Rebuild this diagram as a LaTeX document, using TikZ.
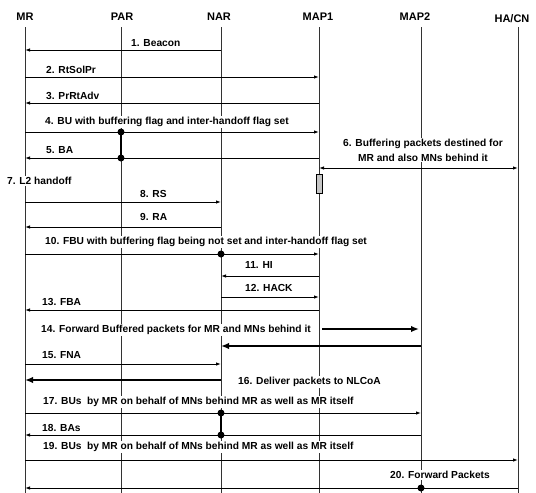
\documentclass[tikz,border=0pt]{standalone}
\usepackage{fontspec}
\setmainfont{Liberation Sans}
\usetikzlibrary{arrows.meta}
\begin{document}
\begin{tikzpicture}[x=1pt,y=-1pt,
  head/.style={font=\fontsize{11}{12}\selectfont\bfseries, inner sep=1pt},
  lbl/.style={font=\fontsize{10.2}{12}\selectfont\bfseries, fill=white, inner sep=1pt, anchor=west},
  life/.style={line width=0.8pt, black!80},
  msg/.style={line width=0.9pt, -{Latex[length=5pt,width=3.5pt]}},
  msgb/.style={line width=0.9pt, {Latex[length=5pt,width=3.5pt]}-{Latex[length=5pt,width=3.5pt]}},
  bigarr/.style={line width=2.4pt, -{Latex[length=8pt,width=6.5pt]}},
  bar/.style={line width=1.6pt},
  dot/.style={circle, fill=black, inner sep=0pt, minimum size=7pt}]
\useasboundingbox (0,0) rectangle (536,493);
% headers
\node[head] (mr) at (25,17) {MR};
\node[head] (par) at (122,17) {PAR};
\node[head] (nar) at (219,17) {NAR};
\node[head] (map1) at (318,17) {MAP1};
\node[head] (map2) at (415,17) {MAP2};
\node[head] (ha) at (512,19) {HA/CN};
% lifeline anchors
\coordinate (lmr) at (25,27);
\coordinate (lpar) at (121,27);
\coordinate (lnar) at (221,27);
\coordinate (lmap1) at (319,27);
\coordinate (lmap2) at (421,27);
\coordinate (lha) at (518,27);
\foreach \l in {lmr,lpar,lnar,lmap1,lmap2,lha}{
  \draw[life] (\l) -- (\l |- 0,493);
}
% labels
\node[lbl] (t1) at (130,43) {1. Beacon};
\node[lbl] (t2) at (45,70) {2. RtSolPr};
\node[lbl] (t3) at (45,96) {3. PrRtAdv};
\node[lbl] (t4) at (44,122) {4. BU with buffering flag and inter-handoff flag set};
\node[lbl] (t5) at (45,150) {5. BA};
\node[font=\fontsize{10.2}{15}\selectfont\bfseries, fill=white, inner sep=1pt, align=center] (t6) at (423,150) {6. Buffering packets destined for\\MR and also MNs behind it};
\node[lbl] (t7) at (6,181) {7. L2 handoff};
\node[lbl] (t8) at (139,194) {8. RS};
\node[lbl] (t9) at (139,217) {9. RA};
\node[lbl] (t10) at (44,242) {10. FBU with buffering flag being not set and inter-handoff flag set};
\node[lbl] (t11) at (244,265) {11. HI};
\node[lbl] (t12) at (244,288) {12. HACK};
\node[lbl] (t13) at (41,302) {13. FBA};
\node[lbl] (t14) at (40,330) {14. Forward Buffered packets for MR and MNs behind it};
\node[lbl] (t15) at (41,355) {15. FNA};
\node[lbl] (t16) at (237,382) {16. Deliver packets to NLCoA};
\node[lbl] (t17) at (42,402) {17. BUs\ \ by MR on behalf of MNs behind MR as well as MR itself};
\node[lbl] (t18) at (41,428) {18. BAs};
\node[lbl] (t19) at (42,447) {19. BUs\ \ by MR on behalf of MNs behind MR as well as MR itself};
\node[lbl] (t20) at (389,475) {20. Forward Packets};
% buffer box on MAP1
\node[draw, fill=gray!45, line width=0.6pt, minimum width=6pt, minimum height=19pt, inner sep=0pt] (buf) at (319,183.5) {};
% messages
\draw[msg] (lnar |- 0,50) -- (lmr |- 0,50);
\draw[msg] (lmr |- 0,77) -- (lmap1 |- 0,77);
\draw[msg] (lmap1 |- 0,103) -- (lmr |- 0,103);
\draw[msg] (lmr |- 0,132) -- (lmap1 |- 0,132);
\draw[msg] (lmap1 |- 0,158) -- (lmr |- 0,158);
\draw[bar] (lpar |- 0,132) -- (lpar |- 0,158);
\node[dot] (d4) at (lpar |- 0,132) {};
\node[dot] (d5) at (lpar |- 0,158) {};
\draw[msgb] (lmap1 |- 0,168) -- (lha |- 0,168);
\draw[msg] (lmr |- 0,202) -- (lnar |- 0,202);
\draw[msg] (lnar |- 0,227) -- (lmr |- 0,227);
\draw[msg] (lmr |- 0,254) -- (lmap1 |- 0,254);
\node[dot] (d10) at (lnar |- 0,254) {};
\draw[msg] (lmap1 |- 0,276) -- (lnar |- 0,276);
\draw[msg] (lnar |- 0,297) -- (lmap1 |- 0,297);
\draw[msg] (lmap1 |- 0,310) -- (lmr |- 0,310);
\draw[bigarr] ([xshift=3pt]lmap1 |- 0,329) -- ([xshift=-2pt]lmap2 |- 0,329);
\draw[bigarr] (lmap2 |- 0,346) -- (lnar |- 0,346);
\draw[msg] (lmr |- 0,364) -- (lnar |- 0,364);
\draw[bigarr] (lnar |- 0,380) -- (lmr |- 0,380);
\draw[msg] (lmr |- 0,413) -- (lmap2 |- 0,413);
\draw[msg] (lmap2 |- 0,435) -- (lmr |- 0,435);
\draw[bar] (lnar |- 0,413) -- (lnar |- 0,435);
\node[dot] (d17) at (lnar |- 0,413) {};
\node[dot] (d18) at (lnar |- 0,435) {};
\draw[msg] (lmr |- 0,460) -- (lha |- 0,460);
\draw[msg] (lha |- 0,488) -- (lmr |- 0,488);
\node[dot] (d20) at (lmap2 |- 0,488) {};
\end{tikzpicture}
\end{document}
